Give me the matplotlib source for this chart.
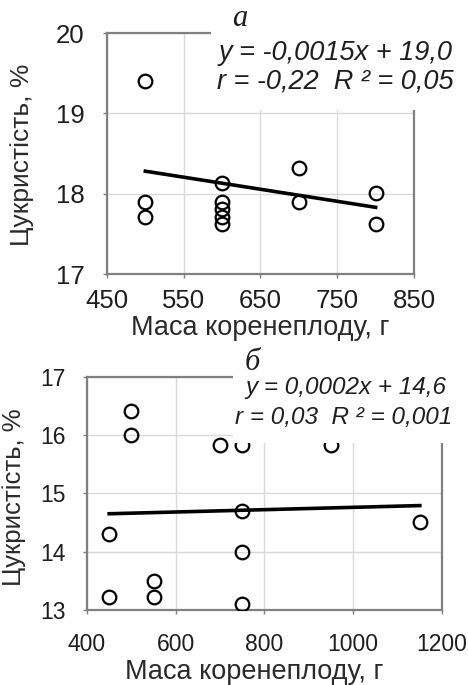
import matplotlib
matplotlib.use("Agg")
import matplotlib.pyplot as plt
from matplotlib.patches import Rectangle

# panel a
mass_a = [500, 500, 500, 600, 600, 600, 600, 600, 700, 700, 800, 800]
sugar_a = [19.40, 17.90, 17.71, 18.13, 17.90, 17.81, 17.71, 17.62, 18.32, 17.90, 18.01, 17.62]
trend_x_a = [500, 800]
trend_y_a = [18.28, 17.83]
xticks_a = [450, 550, 650, 750, 850]
yticks_a = [17, 18, 19, 20]
eq_a = ["y = -0,0015x + 19,0", "r = -0,22  R ² = 0,05"]

# panel b
mass_b = [450, 450, 500, 500, 550, 550, 700, 750, 750, 750, 750, 950, 1150]
sugar_b = [13.22, 14.31, 16.42, 16.00, 13.50, 13.22, 15.83, 15.83, 14.70, 13.99, 13.11, 15.83, 14.51]
trend_x_b = [450, 1150]
trend_y_b = [14.65, 14.79]
xticks_b = [400, 600, 800, 1000, 1200]
yticks_b = [13, 14, 15, 16, 17]
eq_b = ["y = 0,0002x + 14,6", "r = 0,03  R ² = 0,001"]

xlabel = "Маса коренеплоду, г"
ylabel = "Цукристість, %"

plt.rcParams["font.family"] = ["Liberation Sans", "DejaVu Sans"]
FRAME = "#808080"
TXT = "#1e1e1e"

fig = plt.figure(figsize=(4.68, 6.85), dpi=100)


def panel(rect, x, y, tx, ty, xt, yt, eq, letter, opts):
    ax = fig.add_axes(rect)
    ax.grid(color="#d9d9d9", lw=1, zorder=0)
    ax.set_axisbelow(True)
    ax.plot(x, y, "o", ms=9.8, mfc="none", mec="black", mew=1.6, zorder=3)
    ax.plot(tx, ty, color="black", lw=2.6, zorder=3)
    ax.set_xlim(xt[0], xt[-1]); ax.set_ylim(yt[0], yt[-1])
    ax.set_xticks(xt); ax.set_yticks(yt)
    for s in ax.spines.values():
        s.set_color(FRAME); s.set_linewidth(1.6)
    ax.tick_params(colors=FRAME, labelcolor=TXT, labelsize=opts["tick"],
                   length=3, width=1)
    ax.tick_params(axis="x", pad=opts["xpad"])
    ax.tick_params(axis="y", pad=opts["ypad"])
    ax.set_xlabel(xlabel, fontsize=19.5, color="#2a2a2a")
    ax.set_ylabel(ylabel, fontsize=opts["ylsize"], color="#2a2a2a")
    ax.xaxis.set_label_coords(*opts["xl"])
    ax.yaxis.set_label_coords(*opts["yl"])
    # white box behind the equation
    ax.add_patch(Rectangle(opts["box"], 1.0, opts["boxh"],
                           transform=ax.transAxes, facecolor="white",
                           edgecolor="none", zorder=5, clip_on=False))
    for pos, line in zip((opts["eq1"], opts["eq2"]), eq):
        ax.text(*pos, line, transform=ax.transAxes, ha="center", va="center",
                fontsize=opts["eqsize"], style="italic", color=TXT, zorder=6)
    ax.text(*opts["title"], letter, transform=ax.transAxes, ha="center",
            va="center", fontsize=22, style="italic",
            family="Liberation Serif", color=TXT, zorder=6)
    return ax


panel([0.2286, 0.6, 0.656, 0.3518], mass_a, sugar_a, trend_x_a, trend_y_a,
      xticks_a, yticks_a, eq_a, "а",
      dict(tick=18.5, xpad=8, ypad=13, xl=(0.5, -0.17), yl=(-0.238, 0.494),
           ylsize=19, box=(0.339, 0.68), boxh=0.6, eqsize=19.5,
           eq1=(0.743, 0.917), eq2=(0.743, 0.797), title=(0.433, 1.062)))

panel([0.1859, 0.1095, 0.7585, 0.3406], mass_b, sugar_b, trend_x_b, trend_y_b,
      xticks_b, yticks_b, eq_b, "б",
      dict(tick=16.5, xpad=13.5, ypad=12.5, xl=(0.47, -0.21), yl=(-0.172, 0.485),
           ylsize=18.5, box=(0.411, 0.717), boxh=0.41, eqsize=17.5,
           eq1=(0.73, 0.953), eq2=(0.724, 0.824), title=(0.465, 1.06)))

fig.savefig("out.png", dpi=100)
